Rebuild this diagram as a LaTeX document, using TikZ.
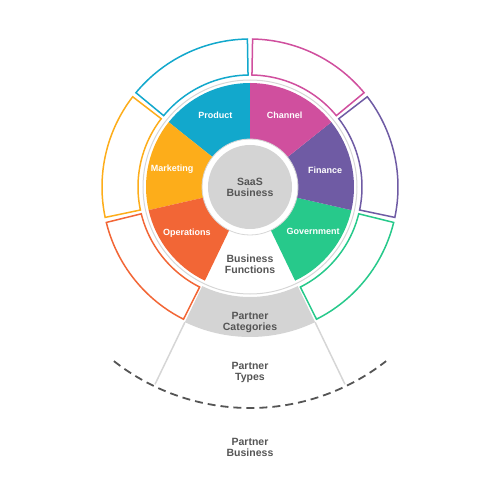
\documentclass[tikz,border=0pt]{standalone}
\usepackage{fontspec}
\setmainfont{Liberation Sans}

\definecolor{productcol}{HTML}{12A8CC}
\definecolor{channelcol}{HTML}{D04F9E}
\definecolor{financecol}{HTML}{6F5BA4}
\definecolor{governmentcol}{HTML}{27C98B}
\definecolor{operationscol}{HTML}{F26636}
\definecolor{marketingcol}{HTML}{FDAD1A}
\definecolor{fillgray}{HTML}{D4D4D4}
\definecolor{linegray}{HTML}{D6D6D6}
\definecolor{textgray}{HTML}{555555}

\tikzset{
  inlabel/.style={text=white,font=\fontsize{9}{10}\selectfont\bfseries},
  graylabel/.style={text=textgray,font=\fontsize{10.5}{11}\selectfont\bfseries,align=center},
  boxline/.style={line width=1.5pt,fill=white},
}

\begin{document}
\begin{tikzpicture}
            \useasboundingbox (-250pt,-313pt) rectangle (250pt,187pt);
            % business functions
            \fill[productcol] (90:48pt) arc[start angle=90,end angle=141.43,radius=48pt] -- (141.43:104pt) arc[start angle=141.43,end angle=90,radius=104pt] -- cycle;
            \fill[marketingcol] (141.43:48pt) arc[start angle=141.43,end angle=192.86,radius=48pt] -- (192.86:104pt) arc[start angle=192.86,end angle=141.43,radius=104pt] -- cycle;
            \fill[operationscol] (192.86:48pt) arc[start angle=192.86,end angle=244.29,radius=48pt] -- (244.29:104pt) arc[start angle=244.29,end angle=192.86,radius=104pt] -- cycle;
            \fill[governmentcol] (295.71:48pt) arc[start angle=295.71,end angle=347.14,radius=48pt] -- (347.14:104pt) arc[start angle=347.14,end angle=295.71,radius=104pt] -- cycle;
            \fill[financecol] (347.14:48pt) arc[start angle=347.14,end angle=398.57,radius=48pt] -- (398.57:104pt) arc[start angle=398.57,end angle=347.14,radius=104pt] -- cycle;
            \fill[channelcol] (398.57:48pt) arc[start angle=398.57,end angle=450,radius=48pt] -- (450:104pt) arc[start angle=450,end angle=398.57,radius=104pt] -- cycle;
            \draw[linegray,line width=0.8pt] (0,0) circle[radius=48pt];
            \draw[linegray,line width=1pt] (0,0) circle[radius=107pt];
            \fill[fillgray] (0,0) circle[radius=42pt];
            % partner categories
            \fill[fillgray] (244.29:110pt) arc[start angle=244.29,end angle=295.71,radius=110pt] -- (295.71:150pt) arc[start angle=295.71,end angle=244.29,radius=150pt] -- cycle;
            \draw[productcol,boxline] (91:112pt) arc[start angle=91,end angle=140.43,radius=112pt] -- (140.43:148pt) arc[start angle=140.43,end angle=91,radius=148pt] -- cycle;
            \draw[marketingcol,boxline] (142.43:112pt) arc[start angle=142.43,end angle=191.86,radius=112pt] -- (191.86:148pt) arc[start angle=191.86,end angle=142.43,radius=148pt] -- cycle;
            \draw[operationscol,boxline] (193.86:112pt) arc[start angle=193.86,end angle=243.29,radius=112pt] -- (243.29:148pt) arc[start angle=243.29,end angle=193.86,radius=148pt] -- cycle;
            \draw[governmentcol,boxline] (296.71:112pt) arc[start angle=296.71,end angle=346.14,radius=112pt] -- (346.14:148pt) arc[start angle=346.14,end angle=296.71,radius=148pt] -- cycle;
            \draw[financecol,boxline] (348.14:112pt) arc[start angle=348.14,end angle=397.57,radius=112pt] -- (397.57:148pt) arc[start angle=397.57,end angle=348.14,radius=148pt] -- cycle;
            \draw[channelcol,boxline] (399.57:112pt) arc[start angle=399.57,end angle=449,radius=112pt] -- (449:148pt) arc[start angle=449,end angle=399.57,radius=148pt] -- cycle;
            % partner types
            \coordinate (tl) at (244.29:150pt);
            \coordinate (tr) at (295.71:150pt);
            \coordinate (bl) at (244.29:219pt);
            \coordinate (br) at (295.71:219pt);
            \draw[linegray,line width=1.5pt] (tl) -- (bl);
            \draw[linegray,line width=1.5pt] (tr) -- (br);
            \draw[textgray,line width=1.8pt,dash pattern=on 8pt off 5pt] (232:221pt) arc[start angle=232,end angle=308,radius=221pt];
            % labels
            \node[inlabel] (product) at (115.71:80pt) {Product};
            \node[inlabel] (marketing) at (167.14:80pt) {Marketing};
            \node[inlabel] (operations) at (216:78pt) {Operations};
            \node[inlabel] (government) at (325:77pt) {Government};
            \node[inlabel] (finance) at (12.86:77pt) {Finance};
            \node[inlabel] (channel) at (64.29:80pt) {Channel};
            \node[graylabel] (saas) at (0,0) {SaaS\\Business};
            \node[graylabel] (functions) at (0,-77pt) {Business\\Functions};
            \node[graylabel] (categories) at (0,-135pt) {Partner\\Categories};
            \node[graylabel] (types) at (0,-185pt) {Partner\\Types};
            \node[graylabel] (business) at (0,-260pt) {Partner\\Business};
        \end{tikzpicture}
\end{document}
